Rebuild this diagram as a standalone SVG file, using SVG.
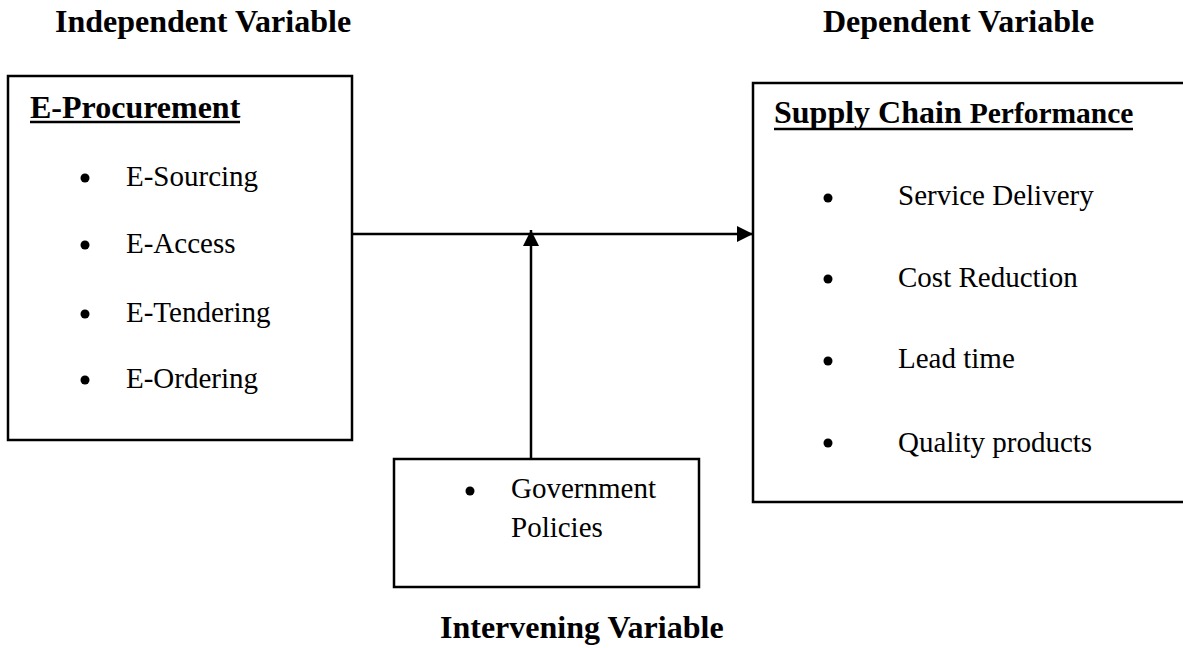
<svg xmlns="http://www.w3.org/2000/svg" width="1183" height="648" viewBox="0 0 1183 648">
<style>
text{font-family:"Liberation Serif","Times New Roman",serif;fill:#000}
.hdr{font-size:32px;font-weight:bold}
.ttl{font-size:32px;font-weight:bold}
.item{font-size:29px}
.box{fill:#fff;stroke:#000;stroke-width:2.5}
.ul{stroke:#000;stroke-width:2.5}
.conn{stroke:#000;stroke-width:2.5;fill:none}
</style>
<defs>
<marker id="arr" viewBox="0 0 10 10" refX="10" refY="5" markerWidth="6.5" markerHeight="6.5" orient="auto" markerUnits="strokeWidth">
<path d="M0,0 L10,5 L0,10 z" fill="#000"/>
</marker>
</defs>
<rect width="1183" height="648" fill="#fff"/>
<g id="labels">
<text class="hdr" x="55" y="32">Independent Variable</text>
<text class="hdr" x="823" y="32">Dependent Variable</text>
<text class="hdr" x="440" y="638">Intervening Variable</text>
</g>
<g id="independent">
<rect class="box" x="8" y="76" width="344" height="364"/>
<text class="ttl" x="30" y="118">E-Procurement</text>
<line class="ul" x1="30" y1="122" x2="240" y2="122"/>
<circle cx="85" cy="178" r="4.5"/><text class="item" x="126" y="186">E-Sourcing</text>
<circle cx="85" cy="245" r="4.5"/><text class="item" x="126" y="253">E-Access</text>
<circle cx="85" cy="314" r="4.5"/><text class="item" x="126" y="322">E-Tendering</text>
<circle cx="85" cy="380" r="4.5"/><text class="item" x="126" y="388">E-Ordering</text>
</g>
<g id="dependent">
<rect class="box" x="753" y="83" width="440" height="419"/>
<text class="ttl" x="774" y="123">Supply Chain <tspan font-size="29.5">Performance</tspan></text>
<line class="ul" x1="774" y1="129" x2="1133" y2="129"/>
<circle cx="828" cy="198" r="4.5"/><text class="item" x="898" y="205">Service Delivery</text>
<circle cx="828" cy="279" r="4.5"/><text class="item" x="898" y="287">Cost Reduction</text>
<circle cx="828" cy="361" r="4.5"/><text class="item" x="898" y="368">Lead time</text>
<circle cx="828" cy="443" r="4.5"/><text class="item" x="898" y="452" font-size="31.5">Quality products</text>
</g>
<g id="intervening">
<rect class="box" x="394" y="459" width="305" height="128"/>
<circle cx="470" cy="491" r="4.5"/>
<text class="item" x="511" y="498">Government</text>
<text class="item" x="511" y="537">Policies</text>
</g>
<g id="connectors">
<line class="conn" x1="352" y1="234" x2="753" y2="234" marker-end="url(#arr)"/>
<line class="conn" x1="531" y1="459" x2="531" y2="230" marker-end="url(#arr)"/>
</g>
</svg>
